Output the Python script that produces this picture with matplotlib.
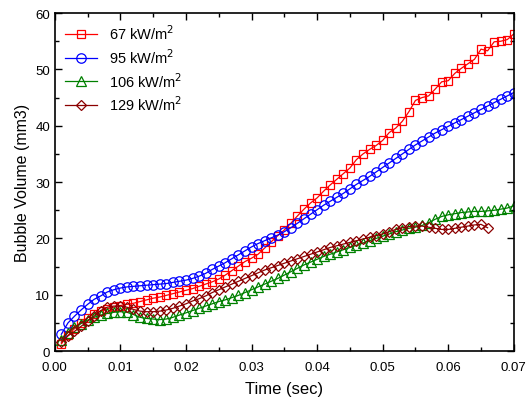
import numpy as np
import matplotlib
matplotlib.use('Agg')
import matplotlib.pyplot as plt
from matplotlib.ticker import MultipleLocator

plt.rcParams['font.family'] = ['Liberation Sans', 'DejaVu Sans']

# time (sec)
t = np.arange(1, 71) * 0.001
t_129 = np.arange(1, 67) * 0.001

# bubble volume (mm3)
v_67 = [1.3, 2.8, 4.0, 5.0, 5.9, 6.6, 7.1, 7.5, 7.8, 8.1,
        8.3, 8.5, 8.8, 9.1, 9.4, 9.6, 9.9, 10.2, 10.5, 10.8,
        11.1, 11.5, 11.9, 12.3, 12.8, 13.5, 14.3, 15.1, 15.9, 16.5,
        17.2, 18.3, 19.4, 20.5, 21.5, 22.7, 24.0, 25.2, 26.3, 27.2,
        28.4, 29.5, 30.5, 31.5, 32.5, 34.0, 35.0, 35.8, 36.5, 37.4,
        38.8, 39.6, 40.8, 42.5, 44.5, 45.0, 45.3, 46.5, 47.8, 48.0,
        49.3, 50.2, 51.0, 51.8, 53.6, 53.3, 54.9, 55.0, 55.3, 56.3]
v_95 = [3.0, 5.0, 6.2, 7.3, 8.3, 9.2, 9.8, 10.5, 10.9, 11.2,
        11.4, 11.5, 11.6, 11.7, 11.8, 11.9, 12.0, 12.2, 12.4, 12.6,
        12.9, 13.3, 13.8, 14.5, 15.1, 15.7, 16.4, 17.1, 17.8, 18.5,
        19.1, 19.6, 20.1, 20.6, 21.2, 21.9, 22.7, 23.5, 24.3, 25.1,
        25.9, 26.6, 27.3, 28.0, 28.8, 29.6, 30.3, 31.0, 31.8, 32.6,
        33.4, 34.2, 35.0, 35.8, 36.6, 37.3, 38.0, 38.7, 39.3, 39.9,
        40.5, 41.1, 41.7, 42.3, 42.9, 43.5, 44.1, 44.7, 45.3, 45.9]
v_106 = [2.0, 3.3, 4.2, 4.9, 5.5, 6.0, 6.4, 6.7, 6.9, 7.0,
         6.9, 6.5, 6.0, 5.8, 5.7, 5.6, 5.7, 6.0, 6.4, 6.8,
         7.2, 7.6, 8.0, 8.4, 8.8, 9.1, 9.5, 9.9, 10.4, 10.9,
         11.4, 11.9, 12.4, 12.9, 13.5, 14.1, 14.7, 15.3, 15.8, 16.3,
         16.8, 17.2, 17.6, 18.0, 18.4, 18.8, 19.2, 19.6, 20.0, 20.4,
         20.8, 21.2, 21.5, 21.8, 22.0, 22.3, 22.8, 23.4, 23.9, 24.2,
         24.4, 24.6, 24.7, 24.8, 24.8, 24.9, 25.0, 25.2, 25.4, 25.8]
v_129 = [1.6, 2.7, 3.5, 4.4, 5.3, 6.2, 7.2, 7.8, 8.0, 8.0,
         7.8, 7.4, 7.1, 7.0, 7.0, 7.1, 7.3, 7.6, 8.0, 8.4,
         8.9, 9.3, 9.8, 10.4, 10.9, 11.4, 11.9, 12.4, 12.9, 13.4,
         13.9, 14.4, 14.8, 15.2, 15.6, 16.0, 16.4, 16.8, 17.2, 17.6,
         18.0, 18.4, 18.7, 19.0, 19.3, 19.6, 19.9, 20.2, 20.5, 20.8,
         21.2, 21.6, 21.9, 22.1, 22.2, 22.2, 22.0, 21.8, 21.6, 21.6,
         21.8, 22.0, 22.2, 22.4, 22.5, 21.9]

fig = plt.figure(figsize=(5.27, 4.02), dpi=100)
ax = fig.add_axes([0.104, 0.124, 0.871, 0.841])

style = dict(markerfacecolor='none', markeredgewidth=0.9, linewidth=0.9)
ax.plot(t, v_67, color='#ff0000', marker='s', markersize=6.4, label='67 kW/m$^2$', **style)
ax.plot(t, v_95, color='#0000ff', marker='o', markersize=6.8, label='95 kW/m$^2$', **style)
ax.plot(t, v_106, color='#008000', marker='^', markersize=7, label='106 kW/m$^2$', **style)
ax.plot(t_129, v_129, color='#8b0000', marker='D', markersize=5.6, label='129 kW/m$^2$', **style)

ax.set_xlim(0, 0.07)
ax.set_ylim(0, 60)
ax.xaxis.set_major_locator(MultipleLocator(0.01))
ax.xaxis.set_minor_locator(MultipleLocator(0.005))
ax.yaxis.set_major_locator(MultipleLocator(10))
ax.yaxis.set_minor_locator(MultipleLocator(5))
ax.xaxis.set_major_formatter(matplotlib.ticker.FormatStrFormatter('%.2f'))
ax.tick_params(which='both', direction='in', top=True, right=True, labelsize=9.5, width=1)
ax.tick_params(axis='x', pad=7)
ax.tick_params(which='major', length=5)
ax.tick_params(which='minor', length=3)
for s in ax.spines.values():
    s.set_linewidth(1.2)

ax.set_xlabel('Time (sec)', fontsize=12, labelpad=6)
ax.set_ylabel('Bubble Volume (mm3)', fontsize=11.5)
ax.legend(loc='upper left', frameon=False, fontsize=10.5, handlelength=2.2,
          borderaxespad=0.3, labelspacing=0.35)

fig.savefig('out.png', dpi=100)
